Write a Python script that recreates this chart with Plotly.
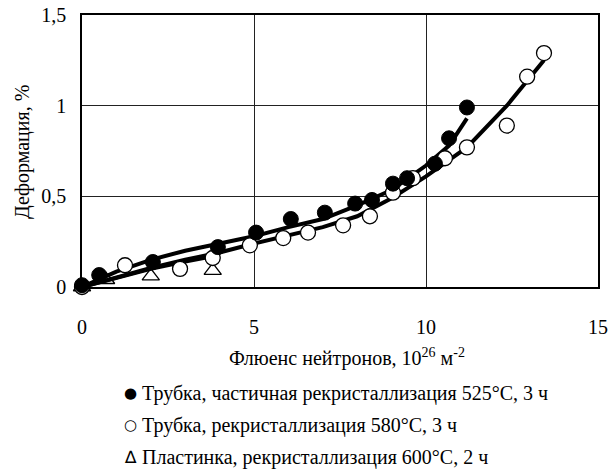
import plotly.graph_objects as go

# Data
x_tube_partial = [0.0, 0.5, 2.06, 3.95, 5.06, 6.07, 7.06, 7.94, 8.43, 9.04, 9.45, 10.26, 10.67, 11.19]
y_tube_partial = [0.01, 0.066, 0.138, 0.22, 0.30, 0.375, 0.41, 0.46, 0.48, 0.57, 0.60, 0.68, 0.82, 0.99]

x_tube_recryst = [0.0, 1.25, 2.85, 3.8, 4.88, 5.85, 6.57, 7.59, 8.37, 9.04, 9.62, 10.55, 11.19, 12.35, 12.94, 13.43]
y_tube_recryst = [0.0, 0.12, 0.10, 0.16, 0.23, 0.27, 0.30, 0.34, 0.39, 0.52, 0.60, 0.71, 0.77, 0.89, 1.16, 1.29]

x_plate = [0.0, 0.7, 2.0, 3.8]
y_plate = [0.0, 0.04, 0.06, 0.09]

# Trend lines
x_trend_partial = [0, 1, 2, 3, 4, 5, 6, 7, 8, 9, 10, 10.67, 11.19]
y_trend_partial = [0.0, 0.085, 0.15, 0.2, 0.24, 0.28, 0.33, 0.375, 0.45, 0.535, 0.67, 0.78, 0.93]

x_trend_recryst = [0, 1, 2, 3, 4, 5, 6, 7, 8, 9, 10, 11.19, 12.35, 12.94, 13.43]
y_trend_recryst = [0.0, 0.055, 0.105, 0.15, 0.19, 0.24, 0.285, 0.33, 0.39, 0.49, 0.61, 0.77, 1.0, 1.14, 1.25]

x_trend_plate = [0, 1, 2, 3, 3.8]
y_trend_plate = [0.0, 0.05, 0.1, 0.14, 0.17]

names = [
    "Трубка, частичная рекристаллизация 525°C, 3 ч",
    "Трубка, рекристаллизация 580°C, 3 ч",
    "Пластинка, рекристаллизация 600°C, 2 ч",
]
legend_glyphs = ["●", "○", "∆"]

y_tickvals = [0, 0.5, 1, 1.5]
y_ticktext = ["0", "0,5", "1", "1,5"]
x_tickvals = [0, 5, 10, 15]

font_family = "Liberation Serif"

fig = go.Figure()

line_style = dict(color="black", width=4)
fig.add_trace(go.Scatter(x=x_trend_plate, y=y_trend_plate, mode="lines", line=line_style,
                         showlegend=False, cliponaxis=False, hoverinfo="skip"))
fig.add_trace(go.Scatter(x=x_trend_recryst, y=y_trend_recryst, mode="lines", line=line_style,
                         showlegend=False, cliponaxis=False, hoverinfo="skip"))
fig.add_trace(go.Scatter(x=x_trend_partial, y=y_trend_partial, mode="lines", line=line_style,
                         showlegend=False, cliponaxis=False, hoverinfo="skip"))

fig.add_trace(go.Scatter(x=x_plate, y=y_plate, mode="markers", name=names[2], showlegend=False,
                         marker=dict(symbol="triangle-up-open", size=15, color="black",
                                     line=dict(width=1.3, color="black")),
                         cliponaxis=False))
fig.add_trace(go.Scatter(x=x_tube_recryst, y=y_tube_recryst, mode="markers", name=names[1], showlegend=False,
                         marker=dict(symbol="circle", size=15, color="white",
                                     line=dict(width=1.3, color="black")),
                         cliponaxis=False))
fig.add_trace(go.Scatter(x=x_tube_partial, y=y_tube_partial, mode="markers", name=names[0], showlegend=False,
                         marker=dict(symbol="circle", size=15, color="black",
                                     line=dict(width=1, color="black")),
                         cliponaxis=False))

# Page body margin is removed below, so figure pixels equal screen pixels.
FIG_W, FIG_H = 608, 472
# Plot area in screen pixels: x 82..598, y 15..287
L, R, T, B = 82, 598, 15, 287
W, H = R - L, B - T


def px_x(p):
    return (p - L) / W


def px_y(p):
    return (B - p) / H


annotations = [
    dict(text="Флюенс нейтронов, 10<sup>26</sup> м<sup>-2</sup>", xref="paper", yref="paper",
         x=px_x(347), y=px_y(357), xanchor="center", yanchor="middle", showarrow=False,
         font=dict(family=font_family, size=20, color="black")),
    dict(text="Деформация, %", xref="paper", yref="paper", textangle=-90,
         x=px_x(22), y=px_y(152), xanchor="center", yanchor="middle", showarrow=False,
         font=dict(family=font_family, size=20, color="black")),
]
legend_rows = [393, 425, 457]
glyph_sizes = [15, 15, 17]
for name, glyph, gs, ry in zip(names, legend_glyphs, glyph_sizes, legend_rows):
    annotations.append(dict(text=glyph, xref="paper", yref="paper", x=px_x(130), y=px_y(ry),
                            xanchor="center", yanchor="middle", showarrow=False,
                            font=dict(family="DejaVu Sans", size=gs, color="black")))
    annotations.append(dict(text=name, xref="paper", yref="paper", x=px_x(140), y=px_y(ry),
                            xanchor="left", yanchor="middle", showarrow=False,
                            font=dict(family=font_family, size=20, color="black")))

fig.update_layout(
    width=FIG_W, height=FIG_H,
    margin=dict(l=L, r=FIG_W - R, t=T, b=FIG_H - B),
    paper_bgcolor="white", plot_bgcolor="white",
    font=dict(family=font_family, size=20, color="black"),
    showlegend=False,
    annotations=annotations,
    xaxis=dict(range=[0, 15], tickvals=x_tickvals, showgrid=True, gridcolor="#222", gridwidth=1,
               zeroline=False, showline=True, linecolor="black", linewidth=1.5, mirror=True,
               ticks="", tickfont=dict(size=20), ticklabelstandoff=21, automargin=False,
               ticklabeloverflow="allow"),
    yaxis=dict(range=[0, 1.5], tickvals=y_tickvals, ticktext=y_ticktext, showgrid=True,
               gridcolor="#222", gridwidth=1, zeroline=False, showline=True, linecolor="black",
               linewidth=1.5, mirror=True, ticks="", tickfont=dict(size=20),
               ticklabelstandoff=10, automargin=False, ticklabeloverflow="allow"),
)

fig.write_html("out.html",
               config={"displayModeBar": False},
               post_script="document.body.style.margin='0';document.body.style.overflow='hidden';")
